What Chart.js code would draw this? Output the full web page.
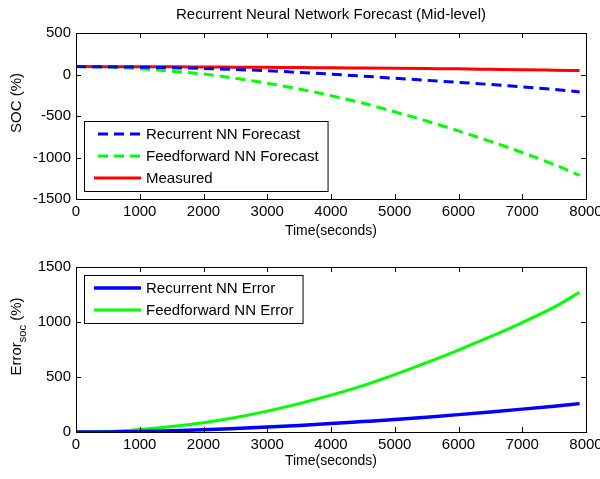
<!DOCTYPE html>
<html>
<head>
<meta charset="utf-8">
<script src="https://cdn.jsdelivr.net/npm/chart.js@4/dist/chart.umd.min.js"></script>
<style>
    html, body { margin: 0; padding: 0; background: #ffffff; }
    #wrap { position: relative; width: 600px; height: 479px; }
    #topBox { position: absolute; left: 0; top: 0; width: 600px; height: 240px; }
    #bottomBox { position: absolute; left: 0; top: 240px; width: 600px; height: 239px; }
</style>
</head>
<body>
<div id="wrap">
    <div id="topBox"><canvas id="forecastChart"></canvas></div>
    <div id="bottomBox"><canvas id="errorChart"></canvas></div>
</div>

<script>
// ======================================================
// DATA
// ======================================================

const timeSeconds = [0, 500, 1000, 1500, 2000, 2500, 3000, 3500, 4000,
                     4500, 5000, 5500, 6000, 6500, 7000, 7500, 7900];

const recurrentForecast = [95, 93, 88, 82, 72, 60, 45, 25, 5,
                           -20, -45, -70, -95, -120, -150, -180, -210];

const feedforwardForecast = [95, 90, 70, 40, 5, -45, -105, -175, -255,
                             -345, -450, -560, -680, -805, -940, -1085, -1215];

const measuredSoc = [95, 94, 93, 92, 90, 88, 86, 84, 80,
                     77, 74, 71, 68, 63, 58, 52, 47];

const recurrentError = [0, 1, 5, 11, 20, 32, 45, 60, 77,
                        95, 113, 135, 158, 182, 208, 235, 258];

const feedforwardError = [0, 4, 22, 50, 85, 132, 190, 258, 335,
                          422, 522, 630, 745, 866, 995, 1135, 1270];

const xTicks = [0, 1000, 2000, 3000, 4000, 5000, 6000, 7000, 8000];
const socTicks = [-1500, -1000, -500, 0, 500];
const errorTicks = [0, 500, 1000, 1500];

// ======================================================
// HELPERS
// ======================================================

const FONT = "'Liberation Sans', Arial, sans-serif";

function toPoints(values) {
    return values.map((v, i) => ({ x: timeSeconds[i], y: v }));
}

// MATLAB style box with inward tick marks
const boxPlugin = {
    id: "matlabBox",
    afterDatasetsDraw(chart) {
        const ctx = chart.ctx;
        const a = chart.chartArea;
        const xs = chart.scales.x;
        const ys = chart.scales.y;
        ctx.save();
        ctx.strokeStyle = "#000000";
        ctx.lineWidth = 1;
        ctx.beginPath();
        xs.ticks.forEach(t => {
            const px = Math.round(xs.getPixelForValue(t.value)) + 0.5;
            ctx.moveTo(px, a.bottom); ctx.lineTo(px, a.bottom - 5);
            ctx.moveTo(px, a.top); ctx.lineTo(px, a.top + 5);
        });
        ys.ticks.forEach(t => {
            const py = Math.round(ys.getPixelForValue(t.value)) + 0.5;
            ctx.moveTo(a.left, py); ctx.lineTo(a.left + 5, py);
            ctx.moveTo(a.right, py); ctx.lineTo(a.right - 5, py);
        });
        ctx.stroke();
        ctx.strokeRect(Math.round(a.left) + 0.5, Math.round(a.top) + 0.5,
                       Math.round(a.right - a.left), Math.round(a.bottom - a.top));
        ctx.restore();
    }
};

// legend drawn inside the axes with a black frame
const boxLegendPlugin = {
    id: "boxLegend",
    afterDraw(chart, args, opts) {
        const ctx = chart.ctx;
        const a = chart.chartArea;
        const sets = chart.data.datasets;
        ctx.save();
        ctx.font = "15px " + FONT;
        let maxText = 0;
        sets.forEach(ds => { maxText = Math.max(maxText, ctx.measureText(ds.label).width); });
        const w = 62 + maxText + 9;
        const h = sets.length * 22 + 4;
        const left = Math.round(a.left) + 8;
        const top = opts.corner === "sw" ? Math.round(a.bottom) - 8 - h : Math.round(a.top) + 8;

        ctx.fillStyle = "#ffffff";
        ctx.fillRect(left, top, w, h);
        ctx.strokeStyle = "#000000";
        ctx.lineWidth = 1;
        ctx.strokeRect(left + 0.5, top + 0.5, w, h);

        sets.forEach((ds, i) => {
            const y = top + 13 + i * 22;
            ctx.strokeStyle = ds.borderColor;
            ctx.lineWidth = ds.borderWidth;
            ctx.setLineDash(ds.borderDash || []);
            ctx.beginPath();
            ctx.moveTo(left + (ds.borderDash ? 14 : 10), y);
            ctx.lineTo(left + 57, y);
            ctx.stroke();
            ctx.setLineDash([]);
            ctx.fillStyle = "#000000";
            ctx.textBaseline = "middle";
            ctx.fillText(ds.label, left + 62, y + 1);
        });
        ctx.restore();
    }
};

// rotated y title, optional subscript part
const yTitlePlugin = {
    id: "yTitle",
    afterDraw(chart, args, opts) {
        const ctx = chart.ctx;
        const a = chart.chartArea;
        ctx.save();
        ctx.translate(21, (a.top + a.bottom) / 2 - 13);
        ctx.rotate(-Math.PI / 2);
        ctx.fillStyle = "#000000";
        ctx.textBaseline = "alphabetic";
        const parts = opts.parts;
        let total = 0;
        parts.forEach(p => {
            ctx.font = (p.sub ? 11 : 15) + "px " + FONT;
            p.w = ctx.measureText(p.text).width;
            total += p.w;
        });
        let x = -total / 2;
        parts.forEach(p => {
            ctx.font = (p.sub ? 11 : 15) + "px " + FONT;
            ctx.fillText(p.text, x, p.sub ? 5 : 0);
            x += p.w;
        });
        ctx.restore();
    }
};

function xScale(height) {
    return {
        type: "linear",
        min: 0,
        max: 8000,
        afterBuildTicks: s => { s.ticks = xTicks.map(v => ({ value: v })); },
        afterFit: s => { s.height = height; s.paddingLeft = 0; s.paddingRight = 0; },
        grid: { display: false, drawTicks: false },
        border: { display: false },
        ticks: {
            color: "#000000", padding: 4, font: { family: FONT, size: 15 },
            callback: v => String(v)
        },
        title: {
            display: true, text: "Time(seconds)", color: "#000000",
            padding: 0, font: { family: FONT, size: 14 }
        }
    };
}

function yScale(minV, maxV, ticksList) {
    return {
        min: minV,
        max: maxV,
        afterBuildTicks: s => { s.ticks = ticksList.map(v => ({ value: v })); },
        afterFit: s => { s.width = 76; s.paddingTop = 0; s.paddingBottom = 0; },
        grid: { display: false, drawTicks: false },
        border: { display: false },
        ticks: {
            color: "#000000", padding: 5, font: { family: FONT, size: 15 },
            callback: v => String(v)
        }
    };
}

// ======================================================
// FORECAST CHART (top)
// ======================================================

function createForecastChart() {
    new Chart(document.getElementById("forecastChart"), {
        type: "line",
        data: {
            datasets: [{
                label: "Recurrent NN Forecast",
                data: toPoints(recurrentForecast),
                borderColor: "#0000ff",
                borderWidth: 3,
                borderDash: [10, 6]
            }, {
                label: "Feedforward NN Forecast",
                data: toPoints(feedforwardForecast),
                borderColor: "#00ff00",
                borderWidth: 3,
                borderDash: [10, 6]
            }, {
                label: "Measured",
                data: toPoints(measuredSoc),
                borderColor: "#ff0000",
                borderWidth: 3
            }]
        },
        options: {
            responsive: true,
            maintainAspectRatio: false,
            animation: false,
            devicePixelRatio: 1,
            layout: { padding: { left: 0, right: 14, top: 0, bottom: 0 } },
            elements: { point: { radius: 0 }, line: { cubicInterpolationMode: "monotone" } },
            plugins: {
                legend: { display: false },
                tooltip: { enabled: false },
                title: {
                    display: true,
                    fullSize: false,
                    text: "Recurrent Neural Network Forecast (Mid-level)",
                    color: "#000000",
                    font: { family: FONT, size: 15, weight: "normal" },
                    padding: { top: 6, bottom: 9 }
                },
                boxLegend: { corner: "sw" },
                yTitle: { parts: [{ text: "SOC (%)" }] }
            },
            scales: {
                x: xScale(41),
                y: yScale(-1500, 500, socTicks)
            }
        },
        plugins: [boxPlugin, boxLegendPlugin, yTitlePlugin]
    });
}

// ======================================================
// ERROR CHART (bottom)
// ======================================================

function createErrorChart() {
    new Chart(document.getElementById("errorChart"), {
        type: "line",
        data: {
            datasets: [{
                label: "Recurrent NN Error",
                data: toPoints(recurrentError),
                borderColor: "#0000ff",
                borderWidth: 3.5
            }, {
                label: "Feedforward NN Error",
                data: toPoints(feedforwardError),
                borderColor: "#00ff00",
                borderWidth: 3
            }]
        },
        options: {
            responsive: true,
            maintainAspectRatio: false,
            animation: false,
            devicePixelRatio: 1,
            layout: { padding: { left: 0, right: 14, top: 27, bottom: 9 } },
            elements: { point: { radius: 0 }, line: { cubicInterpolationMode: "monotone" } },
            plugins: {
                legend: { display: false },
                tooltip: { enabled: false },
                boxLegend: { corner: "nw" },
                yTitle: { parts: [{ text: "Error" }, { text: "soc", sub: true }, { text: " (%)" }] }
            },
            scales: {
                x: xScale(38),
                y: yScale(0, 1500, errorTicks)
            }
        },
        plugins: [boxPlugin, boxLegendPlugin, yTitlePlugin]
    });
}

document.addEventListener("DOMContentLoaded", function () {
    createForecastChart();
    createErrorChart();
});
</script>
</body>
</html>
